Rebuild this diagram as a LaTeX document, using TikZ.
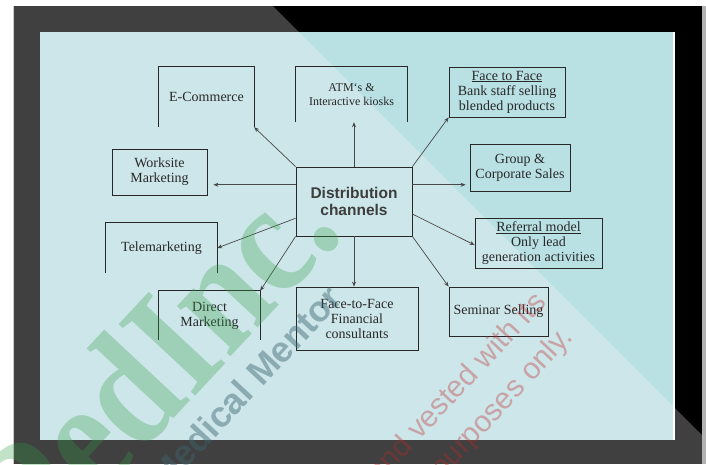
\documentclass[tikz,border=0pt]{standalone}
\usepackage{fontspec}
\setmainfont{Liberation Serif}
\setsansfont{Liberation Sans}
\usetikzlibrary{calc,arrows.meta}
\definecolor{panelA}{RGB}{205,230,234}
\definecolor{panelB}{RGB}{185,224,227}
\definecolor{frameG}{RGB}{64,64,64}
\definecolor{ink}{RGB}{40,40,40}
\definecolor{wmgreen}{RGB}{50,160,70}
\definecolor{wmslate}{RGB}{60,100,110}
\definecolor{wmred}{RGB}{190,40,40}
\begin{document}
\begin{tikzpicture}[x=1pt,y=-1pt,
  box/.style={rectangle, inner sep=0pt, align=center, text=ink, font=\fontsize{14}{15}\selectfont},
  closedbox/.style={box, draw=ink, line width=0.8pt},
  openside/.style={draw=ink, line width=0.8pt},
  arr/.style={draw=ink!85, line width=0.7pt, -{Stealth[length=5pt,width=4pt]}},
  wmark/.style={rotate=47, anchor=base east, inner sep=0pt}
]
\useasboundingbox (0,0) rectangle (706,464);
% background and frame
\fill[white] (0,0) rectangle (706,464);
\fill[frameG] (14,6) rectangle (702,464);
\draw[gray!40, line width=0.6pt] (13.5,6) -- (13.5,464);
\fill[black] (273,6) -- (702,6) -- (702,435) -- cycle;
\fill[gray!60] (702,6) rectangle (706,464);
\fill[panelA] (40,32) rectangle (673,440);
\fill[panelB] (299,32) -- (673,32) -- (673,406) -- cycle;
\draw[white, line width=1.5pt] (674,32) -- (674,440);

% central node
\node[closedbox, minimum width=116pt, minimum height=69pt,
      font=\fontsize{15.5}{16.5}\selectfont\sffamily\bfseries, text=ink!90] (dist) at (354,201.5) {Distribution\\channels};

% boxes
\node[box, minimum width=95pt, minimum height=60pt] (ecom) at (206.5,97) {E-Commerce};
\node[box, minimum width=111pt, minimum height=55pt, font=\fontsize{12}{14}\selectfont] (atm) at (351.5,94.5) {ATM`s \&\\Interactive kiosks};
\node[closedbox, minimum width=116pt, minimum height=50pt] (face) at (507,92) {\underline{Face to Face}\\Bank staff selling\\blended products};
\node[closedbox, minimum width=95pt, minimum height=46pt] (work) at (159.5,172) {Worksite\\Marketing};
\node[closedbox, minimum width=100pt, minimum height=47pt] (group) at (520,167.5) {Group \&\\Corporate Sales};
\node[box, minimum width=111pt, minimum height=50pt] (tele) at (161.5,248) {Telemarketing};
\node[closedbox, minimum width=127pt, minimum height=50pt] (ref) at (538.5,243) {\underline{Referral model}\\Only lead\\generation activities};
\node[box, minimum width=101pt, minimum height=49pt] (direct) at (209.5,315.5) {Direct\\Marketing};
\node[closedbox, minimum width=122pt, minimum height=63pt] (ftf) at (357,318.5) {Face-to-Face\\Financial\\consultants};
\node[closedbox, minimum width=99pt, minimum height=49pt] (sem) at (498.5,311.5) {Seminar Selling};

% open boxes (no bottom side)
\draw[openside] (ecom.south west) |- (ecom.north east) -- (ecom.south east);
\draw[openside] (atm.south west) |- (atm.north east) -- (atm.south east);
\draw[openside] (tele.south west) |- (tele.north east) -- (tele.south east);
\draw[openside] (direct.south west) |- (direct.north east) -- (direct.south east);

% connectors
\coordinate (dw1) at ($(dist.north west)!0.26!(dist.south west)$);
\coordinate (dw2) at ($(dist.north west)!0.74!(dist.south west)$);
\coordinate (de1) at ($(dist.north east)!0.26!(dist.south east)$);
\coordinate (de2) at ($(dist.north east)!0.68!(dist.south east)$);
\coordinate (refin) at ($(ref.north west)!0.54!(ref.south west)$);
\draw[arr] (dist.north west) -- (ecom.south east);
\draw[arr] (dist.north) -- (dist.north |- atm.south);
\draw[arr] (dist.north east) -- (face.south west);
\draw[arr, shorten >=6pt] (dw1) -- (dw1 -| work.east);
\draw[arr, shorten >=4pt] (de1) -- (de1 -| group.west);
\draw[arr] (de2) -- (refin);
\draw[arr] (dist.south east) -- (sem.north west);
\draw[arr] (dist.south) -- (dist.south |- ftf.north);
\draw[arr] (dist.south west) -- (direct.north east);
\draw[arr] (dw2) -- (tele.east);

% watermark
\node[wmark, xscale=0.86, text=wmgreen, opacity=0.3, font=\fontsize{160}{160}\selectfont\bfseries] (wm0) at (346,234) {PedInc.};
\node[wmark, text=wmslate, opacity=0.45, font=\fontsize{36}{36}\selectfont\sffamily\bfseries] (wm1) at (344,300) {Medical Mentor};
\node[wmark, text=wmred, opacity=0.35, font=\fontsize{30}{30}\selectfont\sffamily] (wm2) at (548,303) {and vested with its};
\node[wmark, text=wmred, opacity=0.35, font=\fontsize{30}{30}\selectfont\sffamily] (wm3) at (574,338) {purposes only.};
\end{tikzpicture}
\end{document}
